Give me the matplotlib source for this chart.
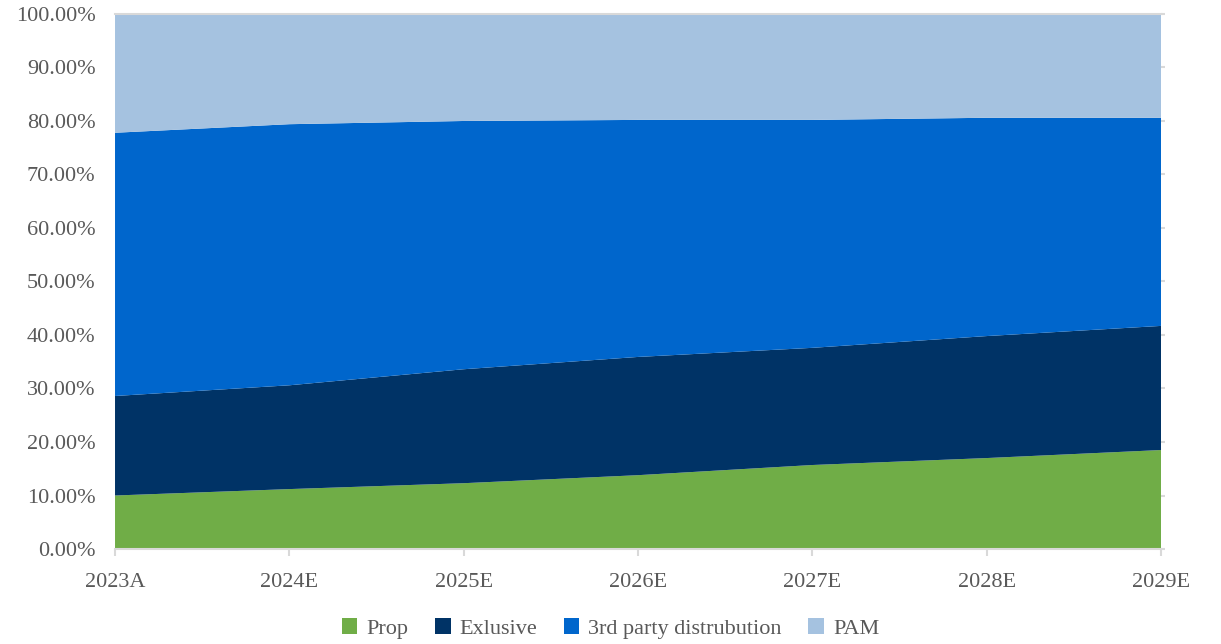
import numpy as np
import matplotlib.pyplot as plt
from matplotlib.ticker import PercentFormatter, MultipleLocator
from matplotlib.patches import Patch

years = ["2023A", "2024E", "2025E", "2026E", "2027E", "2028E", "2029E"]
prop = [10.0, 11.2, 12.3, 13.8, 15.7, 17.0, 18.5]
exclusive = [18.6, 19.4, 21.3, 22.1, 21.9, 22.8, 23.2]
third_party = [49.2, 48.8, 46.4, 44.3, 42.6, 40.8, 38.9]
pam = [22.2, 20.6, 20.0, 19.8, 19.8, 19.4, 19.4]

labels = ["Prop", "Exlusive", "3rd party distrubution", "PAM"]
colors = ["#70AD47", "#003366", "#0066CC", "#A5C2E0"]

plt.rcParams['font.family'] = ['Liberation Serif', 'DejaVu Serif']
txt = "#595959"

fig = plt.figure(figsize=(12.21, 6.44), dpi=100)
ax = fig.add_axes([0.0942, 0.1475, 0.9509 - 0.0942, 0.9783 - 0.1475])

x = np.arange(len(years))
ax.stackplot(x, prop, exclusive, third_party, pam, colors=colors, linewidth=0)

ax.set_xlim(0, len(years) - 1)
ax.set_ylim(0, 100)
ax.yaxis.set_major_locator(MultipleLocator(10))
ax.yaxis.set_major_formatter(PercentFormatter(decimals=2))
ax.set_xticks(x)
ax.set_xticklabels(years)

for s in ["left", "right"]:
    ax.spines[s].set_visible(False)
ax.spines["bottom"].set_color("#D9D9D9")
ax.spines["top"].set_color("#D9D9D9")
ax.spines["bottom"].set_linewidth(1.5)
ax.spines["top"].set_linewidth(1.5)

ax.tick_params(axis="y", length=0, labelsize=16, labelcolor=txt, pad=14)
ax.tick_params(axis="x", length=5, color="#D9D9D9", width=1.5, labelsize=16,
               labelcolor=txt, pad=12)

# small ticks on the right side
ax2 = ax.twinx()
ax2.set_ylim(0, 100)
ax2.yaxis.set_major_locator(MultipleLocator(10))
ax2.tick_params(axis="y", length=3, color="#D9D9D9", width=1.5, labelright=False)
for s in ax2.spines.values():
    s.set_visible(False)

handles = [Patch(facecolor=c, label=l) for c, l in zip(colors, labels)]
leg = fig.legend(handles=handles, loc="center", bbox_to_anchor=(0.5, 0.024), ncol=4,
                 frameon=False, fontsize=16, handlelength=0.7, handleheight=0.7,
                 handletextpad=0.4, columnspacing=1.2)
for t in leg.get_texts():
    t.set_color(txt)

fig.savefig("out.png", dpi=100)
